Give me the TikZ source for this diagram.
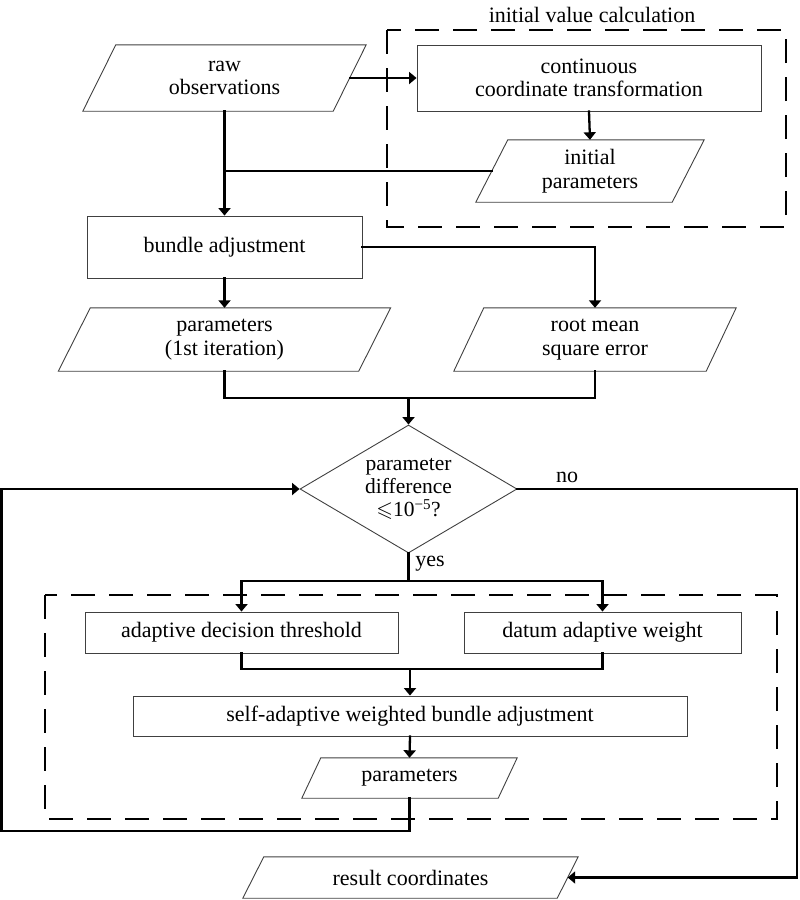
\documentclass[tikz,border=0pt]{standalone}
\usepackage{amssymb}
\usepackage{fontspec}
\setmainfont{Liberation Serif}
\usetikzlibrary{shapes.geometric,arrows.meta,calc}
\newcommand\mypara[2]{\draw[boxline] ([xshift=#2]#1.north west) -- ([xshift=#2]#1.north east) -- ([xshift=-#2]#1.south east) -- ([xshift=-#2]#1.south west) -- cycle;}
\begin{document}
\begin{tikzpicture}[x=1pt,y=-1pt,
  txt/.style={font=\fontsize{22}{23.5}\selectfont, align=center, inner sep=0pt},
  boxline/.style={draw=black!75, line width=0.9pt},
  procbox/.style={txt, rectangle, boxline},
  iobox/.style={txt, rectangle, draw=none},
  decbox/.style={txt, diamond, boxline, aspect=1.7, font=\fontsize{21.5}{23}\selectfont},
  conn/.style={line width=2.3pt, line cap=rect},
  arr/.style={conn, -{Triangle[length=7.5pt,width=12pt]}},
  group/.style={line width=2.6pt, dash pattern=on 24pt off 14pt},
  lbl/.style={font=\fontsize{22}{23.5}\selectfont, inner sep=0pt}
]
\useasboundingbox (0,0) rectangle (800,900);
% dashed group boxes
\draw[group] (387,30) rectangle (786,227);
\node[lbl] (grouplbl) at (592,15) {initial value calculation};
\draw[group] (45,595) rectangle (777,819);

% nodes
\node[iobox, minimum width=250, minimum height=66] (raw) at (224.5,78) {raw\\observations};
\node[procbox, minimum width=344, minimum height=66] (cont) at (589,78) {continuous\\coordinate transformation};
\node[iobox, minimum width=196, minimum height=62] (init) at (590,171) {initial\\parameters};
\node[procbox, minimum width=275, minimum height=62] (bundle) at (224.5,247) {bundle adjustment};
\node[iobox, minimum width=300, minimum height=63] (p1) at (224.5,339.5) {parameters\\(1st iteration)};
\node[iobox, minimum width=252, minimum height=63] (rms) at (595,339.5) {root mean\\square error};
\node[decbox, minimum width=217, minimum height=128] (dec) at (408.5,489) {parameter\\difference\\$\leqslant$10\textsuperscript{−5}?};
\node[procbox, minimum width=313, minimum height=41] (adt) at (241.5,632.5) {adaptive decision threshold};
\node[procbox, minimum width=277, minimum height=41] (daw) at (602.5,632.5) {datum adaptive weight};
\node[procbox, minimum width=554, minimum height=40] (sawba) at (410,716) {self-adaptive weighted bundle adjustment};
\node[iobox, minimum width=196, minimum height=40] (par) at (409.5,778) {parameters};
\node[iobox, minimum width=314, minimum height=41] (res) at (410.5,877.5) {result coordinates};

\mypara{raw}{16.5}
\mypara{init}{16}
\mypara{p1}{16}
\mypara{rms}{15}
\mypara{par}{9.5}
\mypara{res}{10.5}

% helper coordinates
\coordinate (j1) at (raw.south |- init.west);
\coordinate (m1) at (408.5,398);
\coordinate (nr) at (797,489);
\coordinate (nb) at (797,877.5);
\coordinate (lb) at (1.5,831);
\coordinate (lt) at (1.5,489);
\coordinate (pb) at (par.south |- lb);
\coordinate (ys) at (408.5,581);
\coordinate (m2) at (410,669);

% connectors
\draw[arr] (raw.east) -- (cont.west);
\draw[arr] (cont.south) -- (init.north);
\draw[arr] (raw.south) -- (bundle.north);
\draw[conn] (init.west) -- (j1);
\draw[arr] (bundle.east) -| (rms.north);
\draw[arr] (bundle.south) -- (p1.north);
\draw[conn] (p1.south) |- (m1) -| (rms.south);
\draw[arr] (m1) -- (dec.north);
\draw[arr] (dec.east) -- (nr) -- (nb) -- (res.east);
\node[lbl] (nolbl) at (567,477) {no};
\draw[arr] (par.south) -- (pb) -- (lb) -- (lt) -- (dec.west);
\draw[conn] (dec.south) -- (ys);
\draw[arr] (ys) -| (adt.north);
\draw[arr] (ys) -| (daw.north);
\node[lbl] (yeslbl) at (430,564) {yes};
\draw[conn] (adt.south) |- (m2) -| (daw.south);
\draw[arr] (m2) -- (sawba.north);
\draw[arr] (sawba.south) -- (par.north);
\end{tikzpicture}
\end{document}
